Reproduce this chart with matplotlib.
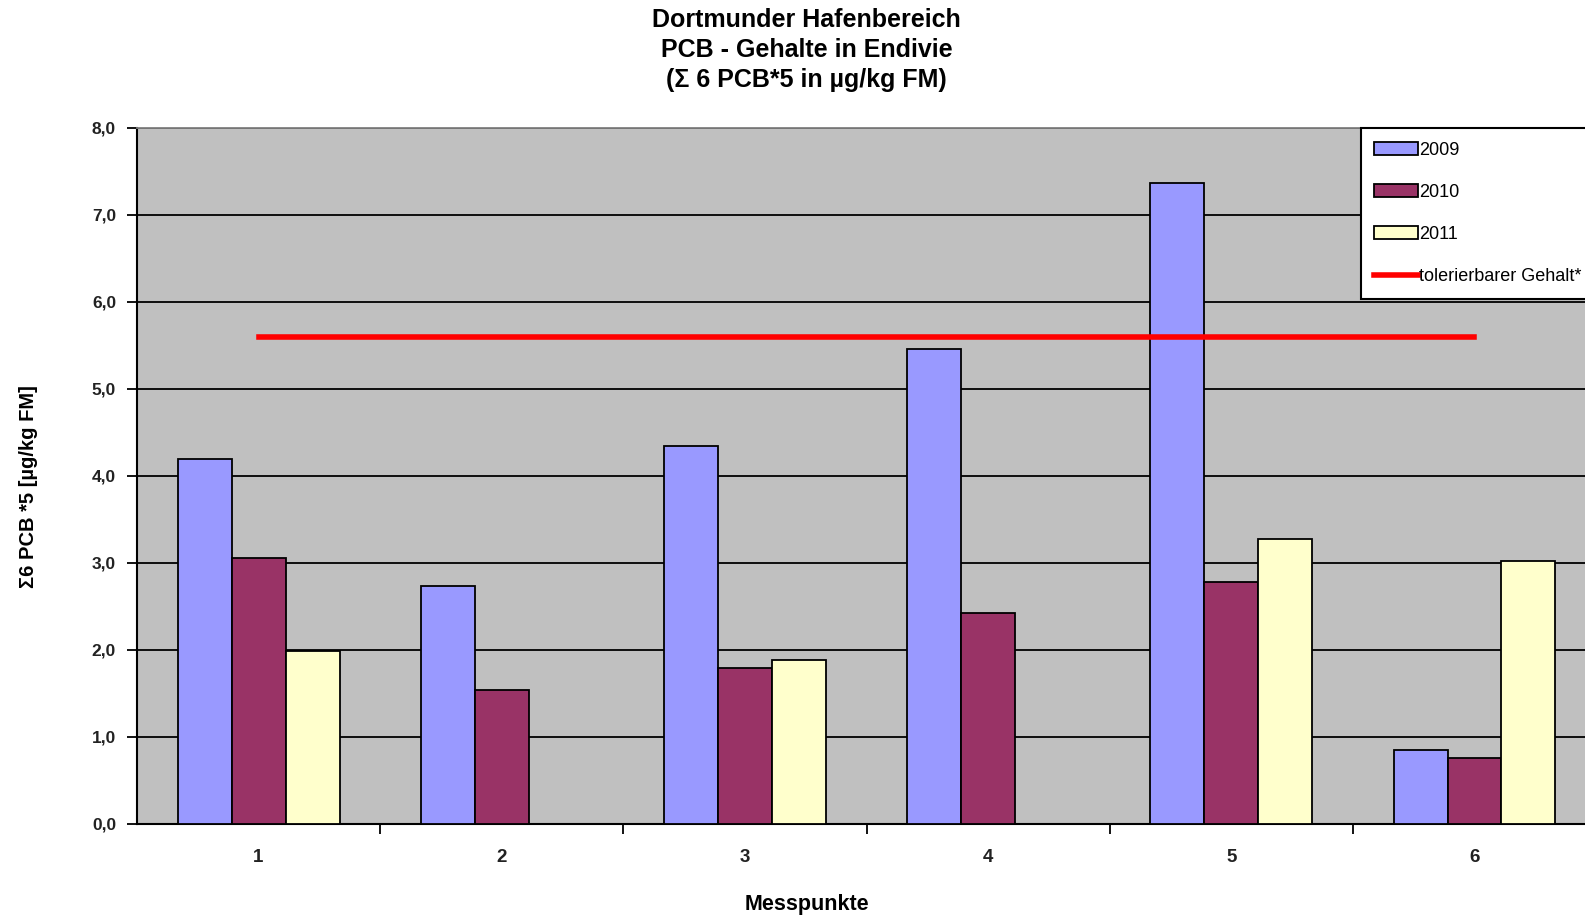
import numpy as np
import matplotlib.pyplot as plt
from matplotlib.patches import Patch
from matplotlib.lines import Line2D

# Daten
messpunkte = ["1", "2", "3", "4", "5", "6"]
werte_2009 = [4.19, 2.74, 4.35, 5.46, 7.37, 0.85]
werte_2010 = [3.06, 1.54, 1.79, 2.42, 2.78, 0.76]
werte_2011 = [1.99, 0.0, 1.89, 0.0, 3.27, 3.02]
toleriert = 5.6

farben = {"2009": "#9999ff", "2010": "#993366", "2011": "#ffffcc"}

plt.rcParams['font.family'] = ['Liberation Sans', 'DejaVu Sans']

fig = plt.figure(figsize=(15.85, 9.18), dpi=100)
ax = fig.add_axes([0.0864, 0.1024, 0.9206, 0.7582])
ax.set_facecolor("#c0c0c0")

x = np.arange(1, len(messpunkte) + 1)
w = 0.222
for i, (jahr, werte) in enumerate([("2009", werte_2009), ("2010", werte_2010), ("2011", werte_2011)]):
    hoehen = [v if v > 0 else np.nan for v in werte]
    ax.bar(x + (i - 1) * w, hoehen, width=w, color=farben[jahr],
           edgecolor="black", linewidth=1.3, zorder=3)

# tolerierbarer Gehalt
ax.plot([x[0], x[-1]], [toleriert, toleriert], color="red", linewidth=4, zorder=4)

ax.set_xlim(0.5, 6.5)
ax.set_ylim(0, 8)
ax.set_yticks(np.arange(0, 8.1, 1))
ax.set_yticklabels([f"{v:.1f}".replace(".", ",") for v in np.arange(0, 8.1, 1)],
                   fontsize=12.5, fontweight="bold", color="#222222")
ax.set_xticks(x)
ax.set_xticklabels(messpunkte, fontsize=13.5, fontweight="bold", color="#222222")
ax.set_xticks(np.arange(1.5, 6.5, 1), minor=True)
ax.tick_params(axis="x", which="major", length=0, pad=18)
ax.tick_params(axis="x", which="minor", length=7, width=1.3, direction="out")
ax.tick_params(axis="y", length=7, width=1.3, direction="out", pad=8)

ax.grid(axis="y", color="black", linewidth=1.3, zorder=1)
ax.set_axisbelow(True)
for s in ["left", "bottom"]:
    ax.spines[s].set_linewidth(1.5)
ax.spines["top"].set_color("#808080")
ax.spines["top"].set_linewidth(1.3)
ax.spines["right"].set_visible(False)

fig.text(0.509, 0.015, "Messpunkte", ha="center", va="center",
         fontsize=15.5, fontweight="bold")
fig.text(0.018, 0.47, "Σ6 PCB *5 [µg/kg FM]", rotation=90, fontsize=14.5,
         fontweight="bold", ha="center", va="center")

fig.text(0.509, 0.991, "Dortmunder Hafenbereich\nPCB - Gehalte in Endivie\n(Σ 6 PCB*5 in µg/kg FM)",
         ha="center", va="top", fontsize=18, fontweight="bold", linespacing=1.3)

handles = [Patch(facecolor=farben[j], edgecolor="black", linewidth=1.3) for j in ["2009", "2010", "2011"]]
handles.append(Line2D([0], [0], color="red", linewidth=4))
leg = fig.legend(handles, ["2009", "2010", "2011", "tolerierbarer Gehalt*"],
                 loc="upper left", bbox_to_anchor=(0.8585, 0.8606),
                 fontsize=13, frameon=True, fancybox=False, framealpha=1,
                 edgecolor="black", handlelength=2.4, handleheight=0.7,
                 handletextpad=0.1, labelspacing=1.4, borderpad=0.75,
                 borderaxespad=0)
leg.get_frame().set_linewidth(1.5)

fig.savefig("out.png", dpi=100)
